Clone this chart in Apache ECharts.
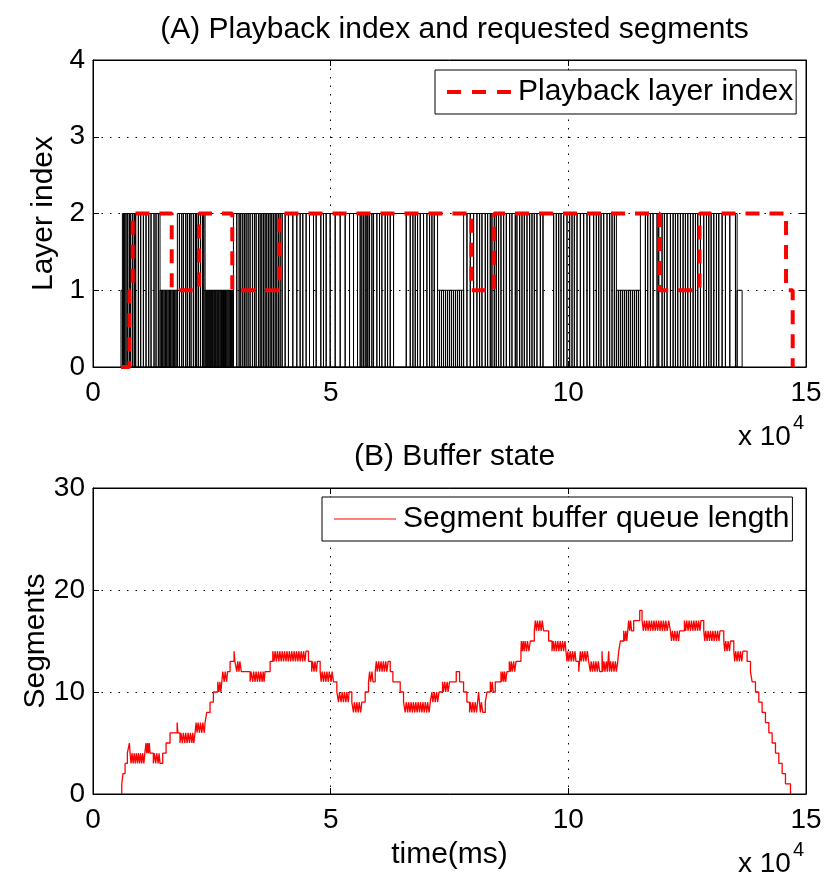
<!DOCTYPE html>
<html><head><meta charset="utf-8">
<script src="https://cdn.jsdelivr.net/npm/echarts@6/dist/echarts.min.js"></script>
<style>html,body{margin:0;padding:0;background:#fff}#c{width:827px;height:883px}</style>
</head><body><div id="c"></div>
<script>
// x values are in units of 10^4 ms (axis shows "x 10^4")
const xTickLabels = ['0', '5', '10', '15'];
const layerTicks = [0, 1, 2, 3, 4];
const segmentTicks = [0, 10, 20, 30];

// requested segments (time of request) for each layer
const reqLayer1 = [0.589,
  1.410, 1.438, 1.467, 1.495, 1.523, 1.551, 1.579, 1.607, 1.635, 1.663, 1.691, 1.719, 1.747,
  2.358, 2.380, 2.400, 2.420, 2.440, 2.460, 2.480, 2.500, 2.520, 2.545, 2.565, 2.585, 2.610, 2.630,
  2.650, 2.675, 2.700, 2.720, 2.745, 2.770, 2.790, 2.815, 2.840, 2.865, 2.890, 2.910, 2.930,
  7.249, 7.291, 7.333, 7.375, 7.418, 7.460, 7.502, 7.544, 7.586, 7.628, 7.670, 7.712, 7.754,
  11.011, 11.053, 11.095, 11.137, 11.179, 11.221, 11.263, 11.305, 11.348, 11.390, 11.432, 11.474,
  13.551];
const reqLayer2 = [
  0.618, 0.639, 0.667, 0.695, 0.730, 0.765, 0.793, 0.835, 0.870, 0.898, 0.954, 1.003, 1.060, 1.116,
  1.172, 1.221, 1.284, 1.326, 1.375,
  1.775, 1.818, 1.867, 1.902, 1.951, 1.986, 2.028, 2.063, 2.112, 2.154, 2.182, 2.218, 2.260, 2.302, 2.330,
  2.954, 3.025, 3.074, 3.109, 3.151, 3.186, 3.221, 3.263, 3.305, 3.354, 3.396, 3.432, 3.481, 3.516,
  3.551, 3.586, 3.621, 3.656, 3.691, 3.726, 3.761, 3.796, 3.832, 3.867, 3.902, 3.937, 3.979, 4.042,
  4.112, 4.204, 4.288, 4.358, 4.414, 4.484, 4.555, 4.639, 4.695, 4.793, 4.849, 4.905, 4.989, 5.095,
  5.200, 5.305, 5.397, 5.481, 5.565, 5.621, 5.656, 5.691, 5.726, 5.762, 5.783, 5.818, 5.867, 5.902,
  5.972, 6.028, 6.077, 6.147, 6.197, 6.253, 6.323, 6.590, 6.674, 6.730, 6.779, 6.828, 6.884, 6.954,
  7.025, 7.081, 7.130, 7.179,
  7.797, 7.867, 7.937, 8.007, 8.077, 8.133, 8.183, 8.253, 8.302, 8.358, 8.393, 8.442, 8.484, 8.533,
  8.583, 8.639, 8.695, 8.765, 8.814, 8.884, 8.919, 8.976, 9.025, 9.074, 9.130, 9.186, 9.235, 9.284,
  9.340, 9.411, 9.467, 9.691, 9.747, 9.797, 9.846, 9.902, 9.972, 10.028, 10.077, 10.126, 10.183,
  10.253, 10.323, 10.393, 10.449, 10.533, 10.589, 10.639, 10.688, 10.744, 10.814, 10.870, 10.919, 10.968,
  11.516, 11.621, 11.670, 11.726, 11.783, 11.867, 11.902, 11.972, 12.021, 12.077, 12.148, 12.204,
  12.253, 12.302, 12.358, 12.414, 12.463, 12.513, 12.569, 12.625, 12.674, 12.723, 12.779, 12.849,
  12.906, 12.955, 13.004, 13.060, 13.116, 13.165, 13.235, 13.305, 13.397, 13.516];
const reqEnd = 13.656;

// playback layer index: [time, layer from that time on]
const playbackLayer = [[0.589, 0], [0.765, 1], [0.835, 2], [1.656, 1], [2.230, 2], [2.930, 1],
  [3.920, 2], [7.960, 1], [8.440, 2], [11.920, 1], [12.760, 2], [14.580, 1], [14.720, 0]];

// segment buffer queue length: [time, length from that time on]
const bufferQueue = [
  [0.604, 0], [0.606, 1], [0.630, 2], [0.675, 3], [0.723, 4], [0.765, 5], [0.780, 4], [0.800, 3],
  [0.820, 4], [0.845, 3], [0.865, 4], [0.890, 3], [0.910, 4], [0.935, 3], [0.955, 4], [0.980, 3],
  [1.000, 4], [1.025, 3], [1.045, 4], [1.070, 3], [1.090, 4], [1.116, 5], [1.130, 4], [1.150, 5],
  [1.165, 4], [1.185, 5], [1.200, 4], [1.270, 3], [1.290, 4], [1.320, 3], [1.340, 4], [1.370, 3],
  [1.390, 4], [1.410, 3], [1.467, 4], [1.537, 5], [1.621, 6], [1.770, 7], [1.785, 6], [1.830, 5],
  [1.850, 6], [1.880, 5], [1.900, 6], [1.930, 5], [1.950, 6], [1.980, 5], [2.000, 6], [2.030, 5],
  [2.050, 6], [2.080, 5], [2.100, 6], [2.120, 5], [2.147, 6], [2.168, 7], [2.190, 6], [2.210, 7],
  [2.240, 6], [2.260, 7], [2.290, 6], [2.310, 7], [2.340, 6], [2.358, 7], [2.393, 8], [2.463, 9],
  [2.533, 10], [2.625, 11], [2.650, 10], [2.670, 11], [2.690, 10], [2.710, 11], [2.730, 12],
  [2.760, 11], [2.780, 12], [2.810, 11], [2.830, 12], [2.884, 13], [2.968, 14], [2.985, 13],
  [3.025, 12], [3.045, 13], [3.070, 12], [3.090, 13], [3.120, 12], [3.305, 11], [3.325, 12],
  [3.360, 11], [3.380, 12], [3.410, 11], [3.430, 12], [3.460, 11], [3.480, 12], [3.510, 11],
  [3.530, 12], [3.560, 11], [3.580, 12], [3.600, 11], [3.620, 12], [3.726, 13], [3.783, 14],
  [3.810, 13], [3.830, 14], [3.860, 13], [3.880, 14], [3.910, 13], [3.930, 14], [3.960, 13],
  [3.980, 14], [4.010, 13], [4.030, 14], [4.060, 13], [4.080, 14], [4.110, 13], [4.130, 14],
  [4.160, 13], [4.180, 14], [4.210, 13], [4.230, 14], [4.260, 13], [4.280, 14], [4.310, 13],
  [4.330, 14], [4.360, 13], [4.380, 14], [4.410, 13], [4.430, 14], [4.460, 13], [4.480, 14],
  [4.533, 13], [4.600, 12], [4.620, 13], [4.650, 12], [4.670, 13], [4.700, 12], [4.720, 13],
  [4.779, 12], [4.800, 11], [4.820, 12], [4.850, 11], [4.870, 12], [4.900, 11], [4.920, 12],
  [4.950, 11], [4.970, 12], [5.010, 11], [5.030, 12], [5.059, 11], [5.130, 10], [5.165, 9],
  [5.185, 10], [5.220, 9], [5.240, 10], [5.270, 9], [5.290, 10], [5.320, 9], [5.340, 10],
  [5.370, 9], [5.390, 10], [5.445, 9], [5.480, 8], [5.500, 9], [5.530, 8], [5.550, 9], [5.580, 8],
  [5.600, 9], [5.630, 8], [5.656, 9], [5.726, 10], [5.796, 11], [5.820, 12], [5.840, 11],
  [5.870, 12], [5.890, 11], [5.937, 12], [5.960, 13], [5.980, 12], [6.010, 13], [6.030, 12],
  [6.060, 13], [6.080, 12], [6.110, 13], [6.130, 12], [6.160, 13], [6.180, 12], [6.210, 13],
  [6.253, 12], [6.309, 11], [6.463, 10], [6.533, 9], [6.568, 8], [6.590, 9], [6.620, 8],
  [6.640, 9], [6.670, 8], [6.690, 9], [6.720, 8], [6.740, 9], [6.770, 8], [6.790, 9], [6.820, 8],
  [6.840, 9], [6.870, 8], [6.890, 9], [6.920, 8], [6.940, 9], [6.970, 8], [6.990, 9], [7.020, 8],
  [7.040, 9], [7.070, 8], [7.095, 9], [7.130, 10], [7.150, 9], [7.180, 10], [7.200, 9],
  [7.230, 10], [7.250, 9], [7.280, 10], [7.354, 11], [7.370, 10], [7.400, 11], [7.420, 10],
  [7.450, 11], [7.470, 10], [7.500, 11], [7.642, 12], [7.712, 11], [7.796, 10], [7.866, 9],
  [7.923, 8], [7.940, 9], [7.970, 8], [7.990, 9], [8.020, 8], [8.040, 9], [8.070, 8], [8.112, 10],
  [8.130, 9], [8.150, 8], [8.170, 9], [8.200, 8], [8.253, 9], [8.288, 10], [8.358, 11],
  [8.380, 10], [8.400, 11], [8.420, 10], [8.463, 11], [8.582, 12], [8.600, 11], [8.620, 12],
  [8.640, 11], [8.660, 12], [8.680, 11], [8.709, 12], [8.758, 13], [8.780, 12], [8.800, 13],
  [8.820, 12], [8.850, 13], [8.870, 12], [8.900, 13], [9.003, 14], [9.011, 15], [9.030, 14],
  [9.050, 15], [9.070, 14], [9.090, 15], [9.120, 14], [9.140, 15], [9.170, 14], [9.200, 15],
  [9.284, 16], [9.305, 17], [9.330, 16], [9.350, 17], [9.380, 16], [9.400, 17], [9.430, 16],
  [9.450, 17], [9.480, 16], [9.586, 15], [9.656, 14], [9.680, 15], [9.700, 14], [9.730, 15],
  [9.750, 14], [9.780, 15], [9.800, 14], [9.830, 15], [9.850, 14], [9.880, 15], [9.900, 14],
  [9.930, 15], [9.950, 14], [9.972, 13], [9.990, 14], [10.010, 13], [10.040, 14], [10.060, 13],
  [10.090, 14], [10.110, 13], [10.140, 14], [10.160, 13], [10.218, 12], [10.235, 13], [10.253, 14],
  [10.270, 13], [10.300, 14], [10.320, 13], [10.350, 14], [10.370, 13], [10.400, 14], [10.428, 13],
  [10.463, 12], [10.480, 13], [10.510, 12], [10.530, 13], [10.560, 12], [10.580, 13], [10.610, 12],
  [10.630, 13], [10.660, 12], [10.709, 14], [10.725, 12], [10.750, 13], [10.770, 12], [10.800, 13],
  [10.820, 12], [10.849, 14], [10.865, 12], [10.890, 13], [10.910, 12], [10.940, 13], [10.960, 12],
  [10.990, 13], [11.010, 12], [11.040, 13], [11.060, 14], [11.095, 15], [11.165, 16], [11.190, 15],
  [11.210, 16], [11.230, 15], [11.270, 17], [11.290, 16], [11.310, 17], [11.330, 16], [11.375, 17],
  [11.502, 18], [11.551, 17], [11.580, 16], [11.600, 17], [11.630, 16], [11.650, 17], [11.680, 16],
  [11.700, 17], [11.730, 16], [11.750, 17], [11.780, 16], [11.800, 17], [11.830, 16], [11.850, 17],
  [11.880, 16], [11.900, 17], [11.930, 16], [11.950, 17], [11.980, 16], [12.000, 17], [12.030, 16],
  [12.050, 17], [12.080, 16], [12.112, 17], [12.147, 16], [12.170, 15], [12.190, 16], [12.220, 15],
  [12.240, 16], [12.270, 15], [12.290, 16], [12.320, 15], [12.340, 16], [12.442, 17], [12.470, 16],
  [12.490, 17], [12.520, 16], [12.540, 17], [12.570, 16], [12.590, 17], [12.620, 16], [12.640, 17],
  [12.670, 16], [12.690, 17], [12.720, 16], [12.740, 17], [12.770, 16], [12.790, 17], [12.849, 16],
  [12.870, 15], [12.890, 16], [12.920, 15], [12.940, 16], [12.970, 15], [12.990, 16], [13.020, 15],
  [13.040, 16], [13.070, 15], [13.090, 16], [13.120, 15], [13.140, 16], [13.170, 15], [13.190, 16],
  [13.270, 15], [13.290, 14], [13.310, 15], [13.340, 14], [13.360, 15], [13.390, 14], [13.410, 15],
  [13.481, 14], [13.500, 13], [13.520, 14], [13.550, 13], [13.570, 14], [13.600, 13], [13.620, 14],
  [13.650, 13], [13.670, 14], [13.761, 13], [13.832, 12], [13.867, 11], [13.937, 10], [14.007, 9],
  [14.077, 8], [14.147, 7], [14.218, 6], [14.288, 5], [14.358, 4], [14.428, 3], [14.498, 2],
  [14.568, 1], [14.674, 0]];

// build bars (histc-like): each request spans until the next request
const reqAll = reqLayer1.map(t => [t, 1]).concat(reqLayer2.map(t => [t, 2]))
  .sort((a, b) => a[0] - b[0]);
const reqBars = reqAll.map((r, i) => [r[0], i + 1 < reqAll.length ? reqAll[i + 1][0] : reqEnd, r[1]]);

const FONT = '"Liberation Sans", Arial, Helvetica, sans-serif';
const RED = '#ff0000';
const chart = echarts.init(document.getElementById('c'), null, {renderer: 'canvas'});

function xAx(gi, pos, opts) {
  return Object.assign({
    type: 'value', gridIndex: gi, position: pos, min: 0, max: 15, interval: 5,
    axisLine: {show: true, onZero: false, lineStyle: {color: '#000', width: 1}},
    axisTick: {show: true, inside: true, length: 6, lineStyle: {color: '#000'}},
    axisLabel: pos === 'bottom' ? {show: true, fontSize: 28, color: '#000', fontFamily: FONT, margin: 12,
      formatter: v => xTickLabels[Math.round(v / 5)]} : {show: false},
    splitLine: pos === 'bottom' ? {show: true, lineStyle: {color: '#000', width: 1, type: [1.5, 7]}} : {show: false}
  }, opts || {});
}
function yAx(gi, pos, max, interval, ticks, opts) {
  return Object.assign({
    type: 'value', gridIndex: gi, position: pos, min: 0, max: max, interval: interval,
    axisLine: {show: true, onZero: false, lineStyle: {color: '#000', width: 1}},
    axisTick: {show: true, inside: true, length: 6, lineStyle: {color: '#000'}},
    axisLabel: pos === 'left' ? {show: true, fontSize: 28, color: '#000', fontFamily: FONT, margin: 8,
      formatter: v => String(ticks[Math.round(v / interval)])} : {show: false},
    splitLine: pos === 'left' ? {show: true, lineStyle: {color: '#000', width: 1, type: [1.5, 7]}} : {show: false}
  }, opts || {});
}

const legendBase = {
  itemGap: 0,
  padding: [7, 3, 7, 12], borderColor: '#000', borderWidth: 1, backgroundColor: '#fff',
  selectedMode: false,
  textStyle: {fontSize: 30, color: '#000', fontFamily: FONT, lineHeight: 30, padding: [0, 0, 0, 2]}
};

const option = {
  backgroundColor: '#fff',
  animation: false,
  title: [
    {text: '(A) Playback index and requested segments', left: 449.5, top: 10, textAlign: 'center',
      textStyle: {fontSize: 30, fontWeight: 'normal', color: '#000', fontFamily: FONT}},
    {text: '(B) Buffer state', left: 449.5, top: 437, textAlign: 'center',
      textStyle: {fontSize: 30, fontWeight: 'normal', color: '#000', fontFamily: FONT}}
  ],
  grid: [
    {left: 93, top: 60, width: 713, height: 307, show: true, borderColor: '#000', borderWidth: 1, backgroundColor: '#fff'},
    {left: 93, top: 488, width: 713, height: 306, show: true, borderColor: '#000', borderWidth: 1, backgroundColor: '#fff'}
  ],
  xAxis: [
    xAx(0, 'bottom'), xAx(0, 'top'),
    xAx(1, 'bottom', {name: 'time(ms)', nameLocation: 'middle', nameGap: 46, nameMoveOverlap: false,
      nameTextStyle: {fontSize: 30, color: '#000', fontFamily: FONT}}),
    xAx(1, 'top')
  ],
  yAxis: [
    yAx(0, 'left', 4, 1, layerTicks, {name: 'Layer index', nameLocation: 'middle', nameGap: 34, nameMoveOverlap: false,
      nameTextStyle: {fontSize: 30, color: '#000', fontFamily: FONT}}),
    yAx(0, 'right', 4, 1, layerTicks),
    yAx(1, 'left', 30, 10, segmentTicks, {name: 'Segments', nameLocation: 'middle', nameGap: 42, nameMoveOverlap: false,
      nameTextStyle: {fontSize: 30, color: '#000', fontFamily: FONT}}),
    yAx(1, 'right', 30, 10, segmentTicks)
  ],
  legend: [
    Object.assign({}, legendBase, {
      data: [{name: 'Playback layer index', icon: 'path://M0,0h14v4h-14z M25,0h14v4h-14z M50,0h14v4h-14z'}],
      left: 435, top: 70, itemWidth: 64, itemHeight: 4}),
    Object.assign({}, legendBase, {
      data: [{name: 'Segment buffer queue length', icon: 'path://M0,0h62v1h-62z'}],
      left: 322, top: 497, itemWidth: 62, itemHeight: 1})
  ],
  series: [
    {
      name: 'Requested segments', type: 'custom', xAxisIndex: 0, yAxisIndex: 0, silent: true, z: 2,
      data: reqBars, encode: {x: [0, 1], y: 2},
      renderItem: function (params, api) {
        const p0 = api.coord([api.value(0), api.value(2)]);
        const p1 = api.coord([api.value(1), 0]);
        return {type: 'rect', shape: {x: p0[0], y: p0[1], width: p1[0] - p0[0], height: p1[1] - p0[1]},
          style: {fill: 'none', stroke: '#000', lineWidth: 1}};
      }
    },
    {
      name: 'Playback layer index', type: 'line', xAxisIndex: 0, yAxisIndex: 0, step: 'end', z: 5,
      data: playbackLayer, symbol: 'none', silent: true,
      itemStyle: {color: RED},
      lineStyle: {color: RED, width: 4, type: [14, 10]}
    },
    {
      name: 'Segment buffer queue length', type: 'line', xAxisIndex: 2, yAxisIndex: 2, step: 'end', z: 5,
      data: bufferQueue, symbol: 'none', silent: true,
      itemStyle: {color: RED},
      lineStyle: {color: RED, width: 1.3}
    }
  ],
  graphic: [
    {type: 'text', left: 738, top: 423, style: {text: 'x 10', font: '28px ' + FONT, fill: '#000'}},
    {type: 'text', left: 793, top: 413, style: {text: '4', font: '20px ' + FONT, fill: '#000'}},
    {type: 'text', left: 738, top: 850, style: {text: 'x 10', font: '28px ' + FONT, fill: '#000'}},
    {type: 'text', left: 793, top: 840, style: {text: '4', font: '20px ' + FONT, fill: '#000'}}
  ]
};
chart.setOption(option);
</script>
</body></html>
